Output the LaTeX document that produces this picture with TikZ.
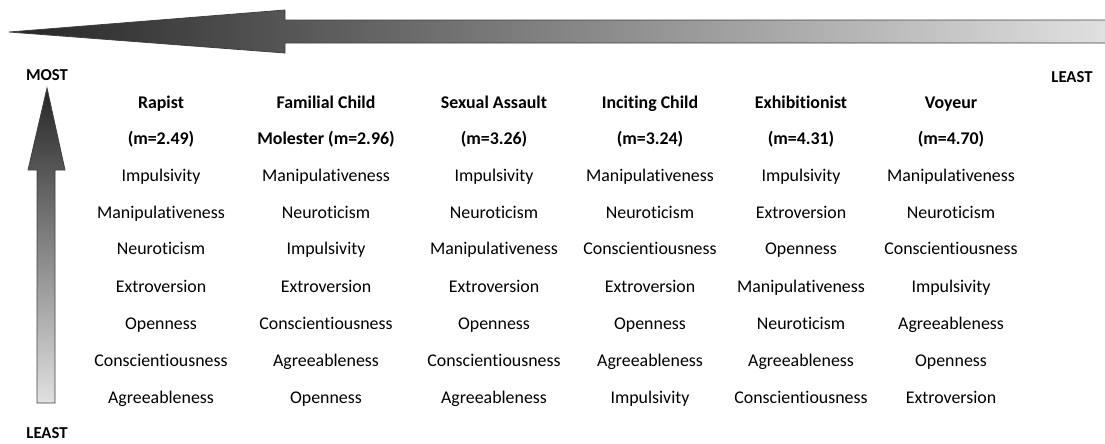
\documentclass[tikz,border=0pt]{standalone}
\usepackage{fontspec}
\setmainfont{Carlito}[Ligatures=NoCommon]
\tikzset{
  trait/.style={anchor=center, inner sep=0pt, text height=1.5ex, text depth=0.3ex,
    yshift=-2.2pt, font=\fontsize{13.4}{15}\selectfont},
  head/.style={trait, font=\fontsize{13.4}{15}\selectfont\bfseries},
  scale label/.style={inner sep=0pt, text height=1.5ex, text depth=0.3ex,
    yshift=-1pt, font=\fontsize{12.5}{14}\selectfont\bfseries},
  gradient arrow/.style={draw=black!75, line width=0.6pt}
}
\begin{document}
\begin{tikzpicture}[x=0.75pt,y=-0.75pt]
  \useasboundingbox (0,0) rectangle (1105,443);
  {
  % Drawing arrow across the top
  \shade [gradient arrow, left color=black!85, right color=black!12]
    (9,32) -- (285,10) -- (285,20) -- (1106,20) -- (1106,43) -- (285,43) -- (285,53) -- cycle;%

  % Drawing arrow on the left
  \shade [gradient arrow, top color=black!85, bottom color=black!12]
    (47,88) -- (65,170) -- (55,170) -- (55,403) -- (37,403) -- (37,170) -- (28,170) -- cycle;%

  % Marking scale ends
  \node [scale label] (most) at (47,75) {MOST};%
  \node [scale label] (leastleft) at (47,433) {LEAST};%
  \node [scale label] (leastright) at (1072,77) {LEAST};%

  % Marking column Rapist
  \node [head] (rapist1) at (161,102) {Rapist};%
  \node [head] (rapist2) at (161,138) {(m=2.49)};%
  \node [trait] (rapist3) at (161,175) {Impulsivity};%
  \node [trait] (rapist4) at (161,212) {Manipulativeness};%
  \node [trait] (rapist5) at (161,248) {Neuroticism};%
  \node [trait] (rapist6) at (161,286) {Extroversion};%
  \node [trait] (rapist7) at (161,323) {Openness};%
  \node [trait] (rapist8) at (161,360) {Conscientiousness};%
  \node [trait] (rapist9) at (161,397) {Agreeableness};%

  % Marking column Familial Child Molester
  \node [head] (familial1) at (326,102) {Familial Child};%
  \node [head] (familial2) at (326,138) {Molester (m=2.96)};%
  \node [trait] (familial3) at (326,175) {Manipulativeness};%
  \node [trait] (familial4) at (326,212) {Neuroticism};%
  \node [trait] (familial5) at (326,248) {Impulsivity};%
  \node [trait] (familial6) at (326,286) {Extroversion};%
  \node [trait] (familial7) at (326,323) {Conscientiousness};%
  \node [trait] (familial8) at (326,360) {Agreeableness};%
  \node [trait] (familial9) at (326,397) {Openness};%

  % Marking column Sexual Assault
  \node [head] (assault1) at (494,102) {Sexual Assault};%
  \node [head] (assault2) at (494,138) {(m=3.26)};%
  \node [trait] (assault3) at (494,175) {Impulsivity};%
  \node [trait] (assault4) at (494,212) {Neuroticism};%
  \node [trait] (assault5) at (494,248) {Manipulativeness};%
  \node [trait] (assault6) at (494,286) {Extroversion};%
  \node [trait] (assault7) at (494,323) {Openness};%
  \node [trait] (assault8) at (494,360) {Conscientiousness};%
  \node [trait] (assault9) at (494,397) {Agreeableness};%

  % Marking column Inciting Child
  \node [head] (inciting1) at (650,102) {Inciting Child};%
  \node [head] (inciting2) at (650,138) {(m=3.24)};%
  \node [trait] (inciting3) at (650,175) {Manipulativeness};%
  \node [trait] (inciting4) at (650,212) {Neuroticism};%
  \node [trait] (inciting5) at (650,248) {Conscientiousness};%
  \node [trait] (inciting6) at (650,286) {Extroversion};%
  \node [trait] (inciting7) at (650,323) {Openness};%
  \node [trait] (inciting8) at (650,360) {Agreeableness};%
  \node [trait] (inciting9) at (650,397) {Impulsivity};%

  % Marking column Exhibitionist
  \node [head] (exhib1) at (801,102) {Exhibitionist};%
  \node [head] (exhib2) at (801,138) {(m=4.31)};%
  \node [trait] (exhib3) at (801,175) {Impulsivity};%
  \node [trait] (exhib4) at (801,212) {Extroversion};%
  \node [trait] (exhib5) at (801,248) {Openness};%
  \node [trait] (exhib6) at (801,286) {Manipulativeness};%
  \node [trait] (exhib7) at (801,323) {Neuroticism};%
  \node [trait] (exhib8) at (801,360) {Agreeableness};%
  \node [trait] (exhib9) at (801,397) {Conscientiousness};%

  % Marking column Voyeur
  \node [head] (voyeur1) at (951,102) {Voyeur};%
  \node [head] (voyeur2) at (951,138) {(m=4.70)};%
  \node [trait] (voyeur3) at (951,175) {Manipulativeness};%
  \node [trait] (voyeur4) at (951,212) {Neuroticism};%
  \node [trait] (voyeur5) at (951,248) {Conscientiousness};%
  \node [trait] (voyeur6) at (951,286) {Impulsivity};%
  \node [trait] (voyeur7) at (951,323) {Agreeableness};%
  \node [trait] (voyeur8) at (951,360) {Openness};%
  \node [trait] (voyeur9) at (951,397) {Extroversion};%
  }
\end{tikzpicture}
\end{document}
